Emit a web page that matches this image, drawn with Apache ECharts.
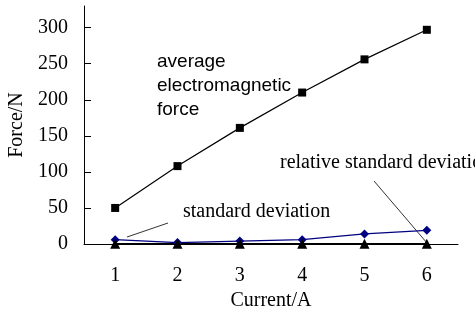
<!DOCTYPE html>
<html>
<head>
<meta charset="utf-8">
<title>Force vs Current</title>
<script src="https://cdn.jsdelivr.net/npm/echarts@6/dist/echarts.min.js"></script>
<style>
html, body { margin: 0; padding: 0; background: #fff; }
#chart { width: 475px; height: 312px; }
</style>
</head>
<body>
<div id="chart"></div>
<script>
// 横轴：电流
var currents = ['1', '2', '3', '4', '5', '6'];
// 平均电磁力
var avgForce = [50, 108, 161, 210, 256, 297];
// 标准差
var stdDev = [6, 2, 4, 6, 14, 19];
// 相对标准差
var relStdDev = [0.5, 0.5, 0.5, 0.5, 0.5, 0.5];

var serif = 'Liberation Serif';
var myChart = echarts.init(document.getElementById('chart'));

var option = {
	animation: false,
	backgroundColor: '#fff',
	grid: { left: 84, right: 17, top: 6, bottom: 68, outerBoundsMode: 'none', containLabel: false },
	xAxis: {
		type: 'category',
		data: currents,
		boundaryGap: true,
		name: 'Current/A',
		nameLocation: 'middle',
		nameGap: 37,
		nameTextStyle: { fontFamily: serif, fontSize: 20, color: '#000' },
		axisLine: { lineStyle: { color: '#000', width: 1 } },
		axisTick: { inside: true, length: 6, lineStyle: { color: '#000' } },
		axisLabel: { fontFamily: serif, fontSize: 20, color: '#000', margin: 22 },
		splitLine: { show: false }
	},
	yAxis: {
		type: 'value',
		min: 0,
		max: 330,
		interval: 50,
		name: 'Force/N',
		nameLocation: 'middle',
		nameGap: 56,
		nameTextStyle: { fontFamily: serif, fontSize: 20, color: '#000' },
		axisLine: { show: true, lineStyle: { color: '#000', width: 1 } },
		axisTick: { show: true, inside: true, length: 7, lineStyle: { color: '#000' } },
		axisLabel: { fontFamily: serif, fontSize: 20, color: '#000', margin: 16, showMaxLabel: false },
		splitLine: { show: false }
	},
	series: [
		{
			name: 'average electromagnetic force',
			type: 'line',
			data: avgForce,
			symbol: 'rect',
			symbolSize: 8,
			itemStyle: { color: '#000' },
			lineStyle: { color: '#000', width: 1.2 }
		},
		{
			name: 'standard deviation',
			type: 'line',
			data: stdDev,
			symbol: 'diamond',
			symbolSize: 9,
			itemStyle: { color: '#000080' },
			lineStyle: { color: '#000080', width: 1.2 }
		},
		{
			name: 'relative standard deviation',
			type: 'line',
			data: relStdDev,
			symbol: 'triangle',
			symbolSize: 10,
			itemStyle: { color: '#000' },
			lineStyle: { color: '#000', width: 1.2 }
		}
	],
	graphic: [
		{
			type: 'text', left: 157, top: 50,
			style: {
				text: 'average\nelectromagnetic\nforce',
				font: '19px "Liberation Sans"', fill: '#000', lineHeight: 24
			}
		},
		{
			type: 'text', left: 183, top: 202,
			style: { text: 'standard deviation', font: '20px "Liberation Serif"', fill: '#000' }
		},
		{
			type: 'text', left: 280, top: 153,
			style: { text: 'relative standard deviation', font: '20px "Liberation Serif"', fill: '#000' }
		},
		{
			type: 'line',
			shape: { x1: 127, y1: 237, x2: 168, y2: 223 },
			style: { stroke: '#000', lineWidth: 0.8 }
		},
		{
			type: 'line',
			shape: { x1: 374, y1: 181, x2: 427, y2: 243 },
			style: { stroke: '#000', lineWidth: 0.8 }
		}
	]
};

myChart.setOption(option);
</script>
</body>
</html>
